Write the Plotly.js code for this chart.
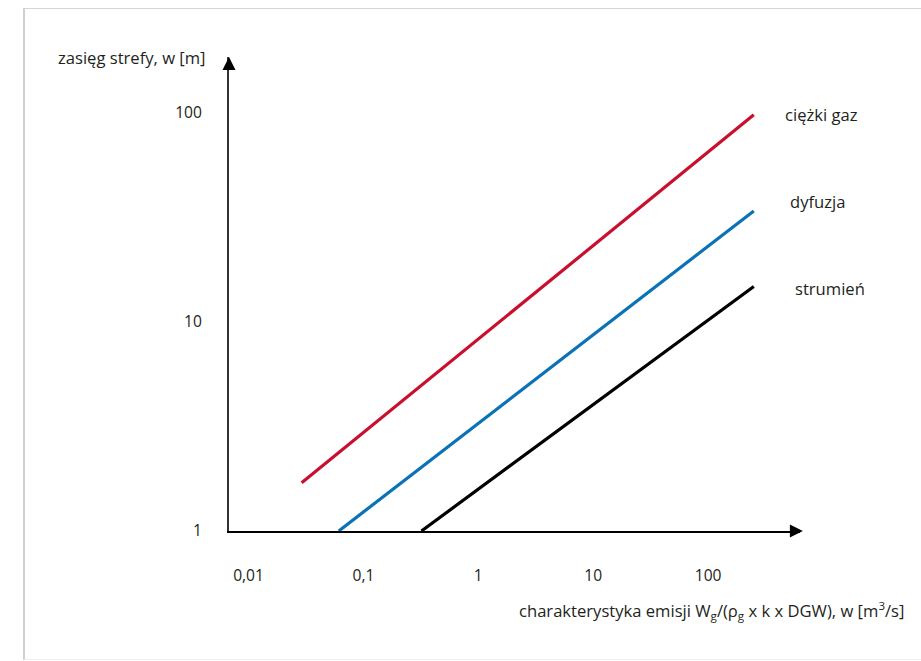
<!DOCTYPE html>
<html>
<head>
<meta charset="utf-8">
<script src="https://cdn.plot.ly/plotly-3.0.1.min.js"></script>
<style>
html,body{margin:0;padding:0;background:#fff;}
#wrap{position:relative;width:921px;height:661px;}
#chart{position:absolute;left:0;top:0;width:921px;height:661px;}
#frame{position:absolute;left:23px;top:8px;width:898px;height:652px;border-left:2px solid #cfcfcf;border-top:1px solid #d4d4d4;border-bottom:1px solid #efefef;box-sizing:border-box;pointer-events:none;}
</style>
</head>
<body>
<div id="wrap"><div id="chart"></div><div id="frame"></div></div>
<script>
// Data (log–log)
const seriesNames = ['ciężki gaz', 'dyfuzja', 'strumień'];
const heavyGasX = [0.029, 250];
const heavyGasY = [1.7, 98];
const diffusionX = [0.061, 250];
const diffusionY = [1.0, 34];
const jetX = [0.32, 250];
const jetY = [1.0, 14.8];
const xTickVals = [0.01, 0.1, 1, 10, 100];
const xTickText = ['0,01', '0,1', '1', '10', '100'];
const yTickVals = [1, 10, 100];
const yTickText = ['1', '10', '100'];
const colors = ['#c8102e', '#0b72b6', '#000000'];

const FONT = '"Open Sans", sans-serif';
const FS = 16.6;
const TFS = 15.6;
const TXT = '#231f20';

const xs = [heavyGasX, diffusionX, jetX];
const ys = [heavyGasY, diffusionY, jetY];

const traces = xs.map((x, i) => ({
  x: x, y: ys[i], type: 'scatter', mode: 'lines', name: seriesNames[i],
  line: {color: colors[i], width: 3.2}, hoverinfo: 'skip', cliponaxis: false
}));

const labelShift = [{dx: 29, dy: 0}, {dx: 34, dy: 9}, {dx: 39, dy: -2}];
const lineLabels = xs.map((x, i) => ({
  x: Math.log10(x[x.length - 1]), y: Math.log10(ys[i][ys[i].length - 1]),
  xref: 'x', yref: 'y', text: seriesNames[i], showarrow: false,
  xanchor: 'left', yanchor: 'middle', xshift: labelShift[i].dx, yshift: labelShift[i].dy,
  font: {family: FONT, size: FS, color: TXT}
}));

const layout = {
  width: 921, height: 661,
  margin: {l: 229, r: 121, t: 57, b: 130},
  paper_bgcolor: 'rgba(0,0,0,0)', plot_bgcolor: 'rgba(0,0,0,0)',
  showlegend: false,
  font: {family: FONT, size: TFS, color: TXT},
  xaxis: {
    type: 'log', range: [-2.17, 2.80],
    tickvals: xTickVals, ticktext: xTickText,
    tickfont: {family: FONT, size: TFS, color: TXT},
    showgrid: false, zeroline: false, ticks: '',
    showline: true, linecolor: '#000', linewidth: 2,
    ticklabelstandoff: 29, fixedrange: true
  },
  yaxis: {
    type: 'log', range: [0, 2.268],
    tickvals: yTickVals, ticktext: yTickText,
    tickfont: {family: FONT, size: TFS, color: TXT},
    showgrid: false, zeroline: false, ticks: '',
    showline: true, linecolor: '#333', linewidth: 2,
    ticklabelstandoff: 22, fixedrange: true
  },
  annotations: [
    // axis arrowheads
    {x: 1.005, y: 0, xref: 'paper', yref: 'paper', ax: -14, ay: 0, text: '', showarrow: true,
     arrowhead: 2, arrowsize: 1.3, arrowwidth: 2, arrowcolor: '#000'},
    {x: 0, y: 1.0, xref: 'paper', yref: 'paper', ax: 0, ay: 14, text: '', showarrow: true,
     arrowhead: 2, arrowsize: 1.3, arrowwidth: 2, arrowcolor: '#000'},
    // axis titles
    {x: -0.303, y: 1.0, xref: 'paper', yref: 'paper', xanchor: 'left', yanchor: 'middle',
     text: 'zasięg strefy, w [m]', showarrow: false, font: {family: FONT, size: FS, color: TXT}},
    {x: 1.186, y: -0.167, xref: 'paper', yref: 'paper', xanchor: 'right', yanchor: 'middle',
     text: 'charakterystyka emisji W<sub>g</sub>/(ρ<sub>g</sub> x k x DGW), w [m<sup>3</sup>/s]',
     showarrow: false, font: {family: FONT, size: FS, color: TXT}}
  ].concat(lineLabels)
};

Plotly.newPlot('chart', traces, layout, {displayModeBar: false, staticPlot: true});
</script>
</body>
</html>
